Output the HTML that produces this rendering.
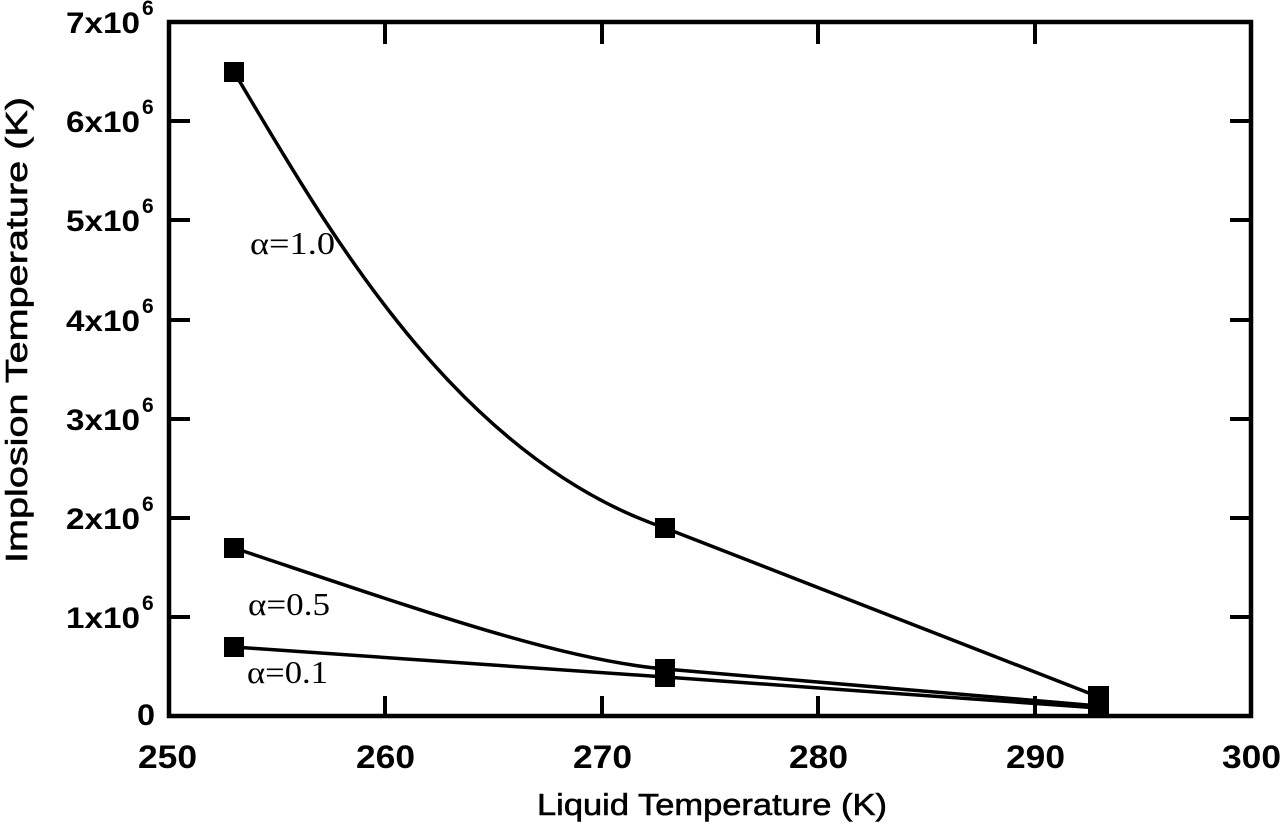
<!DOCTYPE html>
<html><head><style>
body{margin:0;background:#fff;}
svg text{font-family:"Liberation Sans",Arial,sans-serif;fill:#000;}
</style></head><body>
<svg width="1280" height="828" viewBox="0 0 1280 828" xmlns="http://www.w3.org/2000/svg">
<rect x="169" y="22" width="1082" height="694" fill="none" stroke="#000" stroke-width="4.5"/>
<g stroke="#000" stroke-width="4">
<line x1="385" y1="716" x2="385" y2="696"/><line x1="602" y1="716" x2="602" y2="696"/><line x1="818" y1="716" x2="818" y2="696"/><line x1="1035" y1="716" x2="1035" y2="696"/>
<line x1="385" y1="22" x2="385" y2="44"/><line x1="602" y1="22" x2="602" y2="44"/><line x1="818" y1="22" x2="818" y2="44"/><line x1="1035" y1="22" x2="1035" y2="44"/>
<line x1="169" y1="617" x2="190" y2="617"/><line x1="169" y1="518" x2="190" y2="518"/><line x1="169" y1="419" x2="190" y2="419"/><line x1="169" y1="320" x2="190" y2="320"/><line x1="169" y1="220" x2="190" y2="220"/><line x1="169" y1="121" x2="190" y2="121"/>
<line x1="1251" y1="617" x2="1230" y2="617"/><line x1="1251" y1="518" x2="1230" y2="518"/><line x1="1251" y1="419" x2="1230" y2="419"/><line x1="1251" y1="320" x2="1230" y2="320"/><line x1="1251" y1="220" x2="1230" y2="220"/><line x1="1251" y1="121" x2="1230" y2="121"/>
</g>
<g font-size="32" font-weight="bold">
<text x="138" y="768" textLength="59" lengthAdjust="spacingAndGlyphs">250</text>
<text x="356" y="768" textLength="59" lengthAdjust="spacingAndGlyphs">260</text>
<text x="573" y="768" textLength="59" lengthAdjust="spacingAndGlyphs">270</text>
<text x="789" y="768" textLength="59" lengthAdjust="spacingAndGlyphs">280</text>
<text x="1006" y="768" textLength="59" lengthAdjust="spacingAndGlyphs">290</text>
<text x="1222" y="768" textLength="59" lengthAdjust="spacingAndGlyphs">300</text>
</g>
<g font-size="30" font-weight="bold">
<text x="137" y="725" textLength="18" lengthAdjust="spacingAndGlyphs">0</text>
<text x="66" y="628" textLength="74" lengthAdjust="spacingAndGlyphs">1x10</text><text x="142" y="610" font-size="21">6</text>
<text x="66" y="529" textLength="74" lengthAdjust="spacingAndGlyphs">2x10</text><text x="142" y="511" font-size="21">6</text>
<text x="66" y="430" textLength="74" lengthAdjust="spacingAndGlyphs">3x10</text><text x="142" y="412" font-size="21">6</text>
<text x="66" y="331" textLength="74" lengthAdjust="spacingAndGlyphs">4x10</text><text x="142" y="313" font-size="21">6</text>
<text x="66" y="231" textLength="74" lengthAdjust="spacingAndGlyphs">5x10</text><text x="142" y="213" font-size="21">6</text>
<text x="66" y="132" textLength="74" lengthAdjust="spacingAndGlyphs">6x10</text><text x="142" y="114" font-size="21">6</text>
<text x="66" y="33" textLength="74" lengthAdjust="spacingAndGlyphs">7x10</text><text x="142" y="15" font-size="21">6</text>
</g>
<text x="537" y="815" font-size="31" stroke="#000" stroke-width="0.6" textLength="350" lengthAdjust="spacingAndGlyphs">Liquid Temperature (K)</text>
<text transform="translate(27,563) rotate(-90)" font-size="31" stroke="#000" stroke-width="0.6" textLength="466" lengthAdjust="spacingAndGlyphs">Implosion Temperature (K)</text>
<g fill="none" stroke="#000" stroke-width="3.5">
<path d="M234,72 C320,215 450,455 665,528 L1099,697"/>
<path d="M234,548 C420,610 560,660 665,669 L1099,706"/>
<path d="M234,647 L665,677 L1099,708"/>
</g>
<g fill="#000">
<rect x="224" y="62" width="20" height="20"/>
<rect x="655" y="518" width="20" height="20"/>
<rect x="224" y="538" width="20" height="20"/>
<rect x="655" y="659" width="20" height="20"/>
<rect x="224" y="637" width="20" height="20"/>
<rect x="655" y="667" width="20" height="20"/>
<rect x="1088" y="686" width="21" height="30"/>
</g>
<g font-size="32">
<text x="250" y="254" textLength="85" lengthAdjust="spacingAndGlyphs" style="font-family:'Liberation Serif',serif">α=1.0</text>
<text x="248" y="615" textLength="82" lengthAdjust="spacingAndGlyphs" style="font-family:'Liberation Serif',serif">α=0.5</text>
<text x="247" y="683" textLength="81" lengthAdjust="spacingAndGlyphs" style="font-family:'Liberation Serif',serif">α=0.1</text>
</g>
</svg>
</body></html>
